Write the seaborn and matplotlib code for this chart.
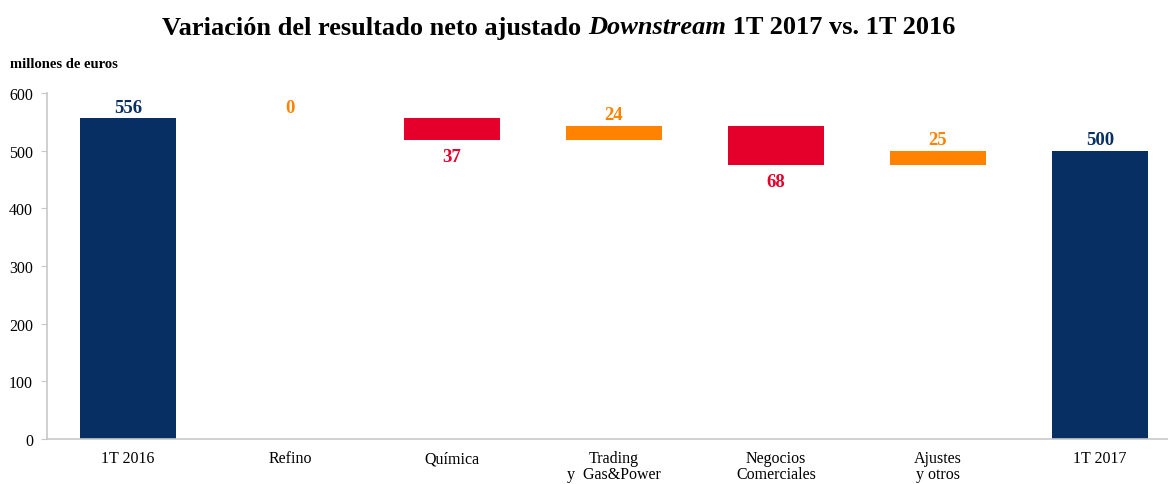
import numpy as np
import pandas as pd
import matplotlib
matplotlib.use("Agg")
import matplotlib.pyplot as plt
import seaborn as sns

# data
categories = ["1T 2016", "Refino", "Química", "Trading\ny  Gas&Power",
              "Negocios\nComerciales", "Ajustes\ny otros", "1T 2017"]
changes = [556, 0, -37, 24, -68, 25, 500]
kinds = ["total", "up", "down", "up", "down", "up", "total"]
labels = ["556", "0", "37", "24", "68", "25", "500"]

palette = {"total": "#082F63", "up": "#FF8300", "down": "#E4002B"}

# waterfall bottoms / tops
bottoms = []
heights = []
run = 0
for v, k in zip(changes, kinds):
    if k == "total":
        bottoms.append(0)
        heights.append(v)
        run = v
    else:
        new = run + v
        bottoms.append(min(run, new))
        heights.append(abs(v))
        run = new
tops = [b + h for b, h in zip(bottoms, heights)]

df = pd.DataFrame({"cat": categories, "height": heights, "kind": kinds})

sns.set_style("white")
plt.rcParams["font.family"] = ["Liberation Serif", "DejaVu Serif"]
plt.rcParams["text.color"] = "black"
plt.rcParams["xtick.color"] = "black"
plt.rcParams["ytick.color"] = "black"

fig = plt.figure(figsize=(11.68, 4.85), dpi=100)
ax = fig.add_axes([47 / 1168, 1 - 440 / 485, 1134 / 1168, 346 / 485])

sns.barplot(data=df, x="cat", y="height", hue="kind", palette=palette,
            dodge=False, width=0.59, legend=False, ax=ax, saturation=1)

# move bars onto their waterfall bottoms
bars = sorted(ax.patches, key=lambda p: p.get_x())
for p, b, h in zip(bars, bottoms, heights):
    p.set_y(b)
    p.set_height(h)
    p.set_linewidth(0)

for i, (k, lab) in enumerate(zip(kinds, labels)):
    col = palette[k]
    if k == "down":
        ax.annotate(lab, (i, bottoms[i]), xytext=(0, -6), textcoords="offset points",
                    ha="center", va="top", color=col, fontsize=13.5, fontweight="bold")
    else:
        ax.annotate(lab, (i, tops[i]), xytext=(0, 2), textcoords="offset points",
                    ha="center", va="bottom", color=col, fontsize=13.5, fontweight="bold")

ax.set_ylim(0, 600)
ax.set_xlim(-0.5, 6.5)
ax.set_yticks(range(0, 601, 100))
ax.set_xlabel("")
ax.set_ylabel("")
ax.set_xticks(np.arange(-0.5, 6.5, 1), minor=True)
ax.tick_params(axis="x", which="major", length=0, labelsize=11.5, pad=8)
ax.tick_params(axis="x", which="minor", length=4, color="#c8c8c8", width=1)
ax.tick_params(axis="y", length=4, color="#c8c8c8", labelcolor="black",
               labelsize=11.5, pad=6, left=True)
ax.tick_params(axis="x", labelcolor="black")
for lab in ax.get_xticklabels():
    lab.set_va("top")
    lab.set_linespacing(1.0)
for s in ["top", "right"]:
    ax.spines[s].set_visible(False)
for s in ["left", "bottom"]:
    ax.spines[s].set_color("#c8c8c8")
    ax.spines[s].set_linewidth(1.2)

fig.text(10 / 1168, 1 - 65 / 485, "millones de euros", fontsize=10.5, fontweight="bold",
         va="center", ha="left", color="black")

# title with italic word
parts = [("Variación del resultado neto ajustado ", "normal"),
         ("Downstream", "italic"),
         (" 1T 2017 vs. 1T 2016", "normal")]
renderer = fig.canvas.get_renderer()
texts = []
x = 0
for txt, style in parts:
    t = fig.text(x, 1 - 28 / 485, txt, fontsize=19, fontweight="bold", style=style,
                 va="center", ha="left", color="black")
    bb = t.get_window_extent(renderer=renderer)
    texts.append(t)
    x += bb.width / fig.bbox.width
start = 559 / 1168 - x / 2
pos = start
for t in texts:
    w = t.get_window_extent(renderer=renderer).width / fig.bbox.width
    t.set_x(pos)
    pos += w

fig.savefig("out.png", dpi=100)
